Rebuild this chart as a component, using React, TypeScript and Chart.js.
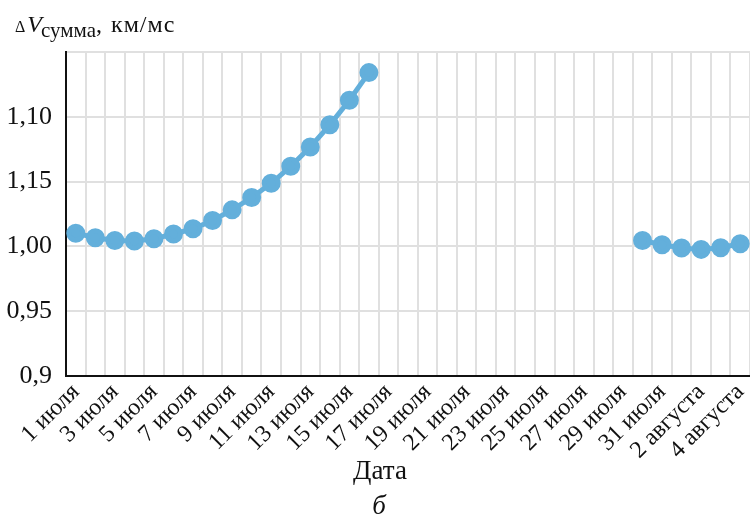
import React, { useEffect, useRef } from "react";
import { Chart, registerables } from "chart.js";

Chart.register(...registerables);

const categories: string[] = [
  "1 июля", "2 июля", "3 июля", "4 июля", "5 июля", "6 июля", "7 июля", "8 июля",
  "9 июля", "10 июля", "11 июля", "12 июля", "13 июля", "14 июля", "15 июля", "16 июля",
  "17 июля", "18 июля", "19 июля", "20 июля", "21 июля", "22 июля", "23 июля", "24 июля",
  "25 июля", "26 июля", "27 июля", "28 июля", "29 июля", "30 июля", "31 июля",
  "1 августа", "2 августа", "3 августа", "4 августа",
];

const dvValues: (number | null)[] = [
  1.0102, 1.0067, 1.0046, 1.0041, 1.0059, 1.0095, 1.0136, 1.02,
  1.0282, 1.0377, 1.0487, 1.0618, 1.0767, 1.0938, 1.1128, 1.1341,
  null, null, null, null, null, null, null, null,
  null, null, null, null, null,
  1.0046, 1.0013, 0.9987, 0.9977, 0.999, 1.0021,
];

const yTickLabels: string[] = ["0,9", "0,95", "1,00", "1,15", "1,10", ""];

const FONT = '"Liberation Serif", "DejaVu Serif", serif';
const LINE_COLOR = "#63afdb";

const textPlugin = {
  id: "extraText",
  afterDraw(chart: any) {
    const ctx = chart.ctx as CanvasRenderingContext2D;
    ctx.save();
    ctx.fillStyle = "#111";
    ctx.textBaseline = "alphabetic";
    ctx.textAlign = "left";
    let x = 15;
    const base = 32;
    ctx.font = `16px ${FONT}`;
    ctx.fillText("Δ", x, base);
    x += ctx.measureText("Δ").width + 2;
    ctx.font = `italic 24px ${FONT}`;
    ctx.fillText("V", x, base);
    x += ctx.measureText("V").width - 1;
    ctx.font = `21px ${FONT}`;
    ctx.fillText("сумма", x, base + 5);
    x += ctx.measureText("сумма").width;
    ctx.font = `24px ${FONT}`;
    ctx.fillText(",", x, base);
    x += ctx.measureText(",").width + 9;
    (ctx as any).letterSpacing = "1px";
    ctx.fillText("км/мс", x, base);
    (ctx as any).letterSpacing = "0px";

    ctx.textAlign = "center";
    ctx.font = `27px ${FONT}`;
    ctx.fillText("Дата", 380, 479);
    ctx.font = `italic 27px ${FONT}`;
    ctx.fillText("б", 379, 514);
    ctx.restore();
  },
};

export default function App() {
  const canvasRef = useRef<HTMLCanvasElement | null>(null);

  useEffect(() => {
    document.body.style.margin = "0";
    const canvas = canvasRef.current;
    if (!canvas) return;
    const chart = new Chart(canvas, {
      type: "line",
      data: {
        labels: categories,
        datasets: [
          {
            data: dvValues,
            borderColor: LINE_COLOR,
            backgroundColor: LINE_COLOR,
            borderWidth: 5,
            pointRadius: 7,
            pointHoverRadius: 7,
            pointBackgroundColor: LINE_COLOR,
            pointBorderColor: LINE_COLOR,
            spanGaps: false,
            tension: 0,
          },
        ],
      },
      options: {
        animation: false,
        responsive: true,
        maintainAspectRatio: false,
        layout: { autoPadding: false, padding: { top: 52, left: 0, right: 0, bottom: 0 } },
        plugins: {
          legend: { display: false },
          tooltip: { enabled: false },
        },
        scales: {
          x: {
            type: "category",
            offset: true,
            grid: {
              offset: true,
              color: "#e0e0e0",
              lineWidth: 2,
              drawTicks: false,
            },
            border: { color: "#111", width: 2 },
            ticks: {
              autoSkip: false,
              minRotation: 45,
              maxRotation: 45,
              padding: 2,
              color: "#111",
              font: { family: FONT, size: 24 },
              callback: (_v: any, i: number) => (i % 2 === 0 ? categories[i] : ""),
            },
            afterFit: (s: any) => {
              s.height = 141;
              s.paddingLeft = 0;
              s.paddingRight = 0;
            },
          },
          y: {
            min: 0.9,
            max: 1.15,
            grid: {
              color: "#e0e0e0",
              lineWidth: 2,
              drawTicks: false,
            },
            border: { color: "#111", width: 2 },
            ticks: {
              stepSize: 0.05,
              padding: 14,
              color: "#111",
              font: { family: FONT, size: 26 },
              callback: (_v: any, i: number) => yTickLabels[i] ?? "",
            },
            afterFit: (s: any) => {
              s.width = 66;
            },
          },
        },
      },
      plugins: [textPlugin],
    });
    return () => chart.destroy();
  }, []);

  return (
    <div style={{ position: "absolute", left: 0, top: 0, width: 750, height: 517 }}>
      <canvas ref={canvasRef} />
    </div>
  );
}
